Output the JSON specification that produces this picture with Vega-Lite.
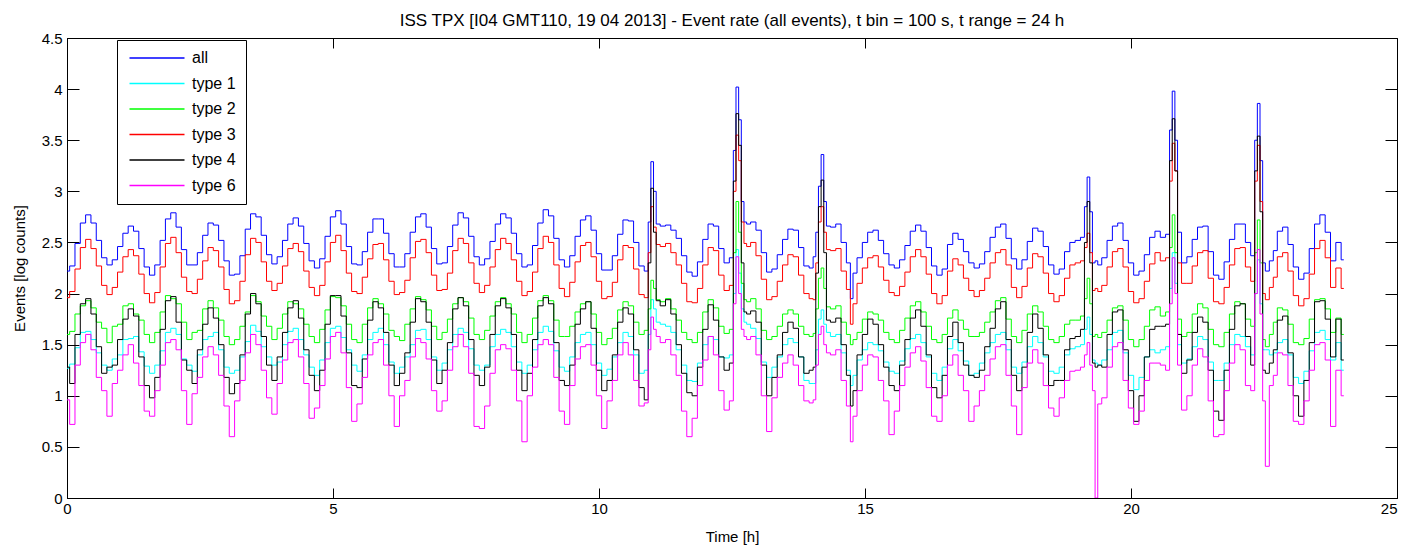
{
"$schema": "https://vega.github.io/schema/vega-lite/v6.json",
"autosize": "none",
"width": 1330,
"height": 460,
"padding": {"left": 67, "top": 38, "right": 6, "bottom": 51},
"background": "white",
"title": {"text": "ISS TPX [I04 GMT110, 19 04 2013] - Event rate (all events), t bin = 100 s, t range = 24 h", "font": "Liberation Sans", "fontSize": 17, "fontWeight": "normal", "color": "black", "offset": 1, "anchor": "middle"},
"config": {"view": {"stroke": "black", "strokeWidth": 1}, "axis": {"labelFont": "Liberation Sans", "titleFont": "Liberation Sans", "labelFontSize": 15, "titleFontSize": 15, "titleFontWeight": "normal", "labelColor": "black", "titleColor": "black", "tickColor": "black", "domainColor": "black", "grid": false}},
"data": {"values": [
{"t":0,"all":2.22,"type 1":1.27,"type 2":1.60,"type 3":1.96,"type 4":1.28,"type 6":0.96},
{"t":0.1,"all":2.27,"type 1":1.31,"type 2":1.63,"type 3":2.02,"type 4":1.12,"type 6":0.72},
{"t":0.2,"all":2.49,"type 1":1.47,"type 2":1.80,"type 3":2.24,"type 4":1.60,"type 6":1.30},
{"t":0.3,"all":2.69,"type 1":1.62,"type 2":1.88,"type 3":2.45,"type 4":1.90,"type 6":1.52},
{"t":0.4,"all":2.77,"type 1":1.63,"type 2":1.93,"type 3":2.53,"type 4":1.95,"type 6":1.60},
{"t":0.5,"all":2.69,"type 1":1.55,"type 2":1.86,"type 3":2.44,"type 4":1.80,"type 6":1.45},
{"t":0.6,"all":2.52,"type 1":1.42,"type 2":1.72,"type 3":2.27,"type 4":1.48,"type 6":1.18},
{"t":0.7,"all":2.35,"type 1":1.30,"type 2":1.66,"type 3":2.08,"type 4":1.22,"type 6":1.05},
{"t":0.8,"all":2.28,"type 1":1.25,"type 2":1.52,"type 3":1.99,"type 4":1.28,"type 6":0.80},
{"t":0.9,"all":2.33,"type 1":1.36,"type 2":1.68,"type 3":2.06,"type 4":1.30,"type 6":1.12},
{"t":1.0,"all":2.46,"type 1":1.40,"type 2":1.70,"type 3":2.21,"type 4":1.55,"type 6":1.25},
{"t":1.1,"all":2.59,"type 1":1.55,"type 2":1.88,"type 3":2.36,"type 4":1.75,"type 6":1.40},
{"t":1.2,"all":2.66,"type 1":1.56,"type 2":1.90,"type 3":2.43,"type 4":1.85,"type 6":1.50},
{"t":1.3,"all":2.61,"type 1":1.58,"type 2":1.80,"type 3":2.37,"type 4":1.78,"type 6":1.32},
{"t":1.4,"all":2.44,"type 1":1.43,"type 2":1.74,"type 3":2.19,"type 4":1.38,"type 6":1.10},
{"t":1.5,"all":2.26,"type 1":1.29,"type 2":1.60,"type 3":2.00,"type 4":1.10,"type 6":0.85},
{"t":1.6,"all":2.18,"type 1":1.22,"type 2":1.52,"type 3":1.91,"type 4":0.98,"type 6":0.80},
{"t":1.7,"all":2.28,"type 1":1.30,"type 2":1.62,"type 3":2.01,"type 4":1.18,"type 6":1.05},
{"t":1.8,"all":2.52,"type 1":1.44,"type 2":1.82,"type 3":2.26,"type 4":1.65,"type 6":1.30},
{"t":1.9,"all":2.73,"type 1":1.62,"type 2":1.98,"type 3":2.49,"type 4":1.93,"type 6":1.52},
{"t":2.0,"all":2.79,"type 1":1.66,"type 2":1.95,"type 3":2.55,"type 4":1.97,"type 6":1.55},
{"t":2.1,"all":2.65,"type 1":1.60,"type 2":1.90,"type 3":2.40,"type 4":1.72,"type 6":1.45},
{"t":2.2,"all":2.43,"type 1":1.36,"type 2":1.72,"type 3":2.16,"type 4":1.35,"type 6":1.05},
{"t":2.3,"all":2.28,"type 1":1.30,"type 2":1.55,"type 3":2.02,"type 4":1.25,"type 6":0.72},
{"t":2.4,"all":2.28,"type 1":1.24,"type 2":1.62,"type 3":2.00,"type 4":1.12,"type 6":1.02},
{"t":2.5,"all":2.40,"type 1":1.40,"type 2":1.64,"type 3":2.14,"type 4":1.45,"type 6":1.18},
{"t":2.6,"all":2.57,"type 1":1.55,"type 2":1.85,"type 3":2.32,"type 4":1.70,"type 6":1.38},
{"t":2.7,"all":2.69,"type 1":1.58,"type 2":1.93,"type 3":2.45,"type 4":1.86,"type 6":1.48},
{"t":2.8,"all":2.67,"type 1":1.62,"type 2":1.86,"type 3":2.42,"type 4":1.76,"type 6":1.40},
{"t":2.9,"all":2.52,"type 1":1.45,"type 2":1.74,"type 3":2.26,"type 4":1.50,"type 6":1.20},
{"t":3.0,"all":2.32,"type 1":1.28,"type 2":1.58,"type 3":2.04,"type 4":1.18,"type 6":0.90},
{"t":3.1,"all":2.18,"type 1":1.22,"type 2":1.50,"type 3":1.90,"type 4":1.02,"type 6":0.60},
{"t":3.2,"all":2.19,"type 1":1.25,"type 2":1.55,"type 3":1.93,"type 4":1.12,"type 6":0.95},
{"t":3.3,"all":2.37,"type 1":1.38,"type 2":1.68,"type 3":2.12,"type 4":1.40,"type 6":1.15},
{"t":3.4,"all":2.63,"type 1":1.53,"type 2":1.82,"type 3":2.38,"type 4":1.80,"type 6":1.42},
{"t":3.5,"all":2.78,"type 1":1.69,"type 2":1.98,"type 3":2.54,"type 4":2.00,"type 6":1.60},
{"t":3.6,"all":2.75,"type 1":1.63,"type 2":1.92,"type 3":2.50,"type 4":1.90,"type 6":1.50},
{"t":3.7,"all":2.57,"type 1":1.48,"type 2":1.78,"type 3":2.31,"type 4":1.58,"type 6":1.25},
{"t":3.8,"all":2.38,"type 1":1.38,"type 2":1.68,"type 3":2.12,"type 4":1.30,"type 6":0.98},
{"t":3.9,"all":2.29,"type 1":1.30,"type 2":1.55,"type 3":2.03,"type 4":1.15,"type 6":0.82},
{"t":4.0,"all":2.36,"type 1":1.33,"type 2":1.66,"type 3":2.10,"type 4":1.38,"type 6":1.12},
{"t":4.1,"all":2.52,"type 1":1.50,"type 2":1.80,"type 3":2.27,"type 4":1.62,"type 6":1.35},
{"t":4.2,"all":2.68,"type 1":1.63,"type 2":1.92,"type 3":2.44,"type 4":1.86,"type 6":1.52},
{"t":4.3,"all":2.74,"type 1":1.66,"type 2":1.90,"type 3":2.49,"type 4":1.93,"type 6":1.55},
{"t":4.4,"all":2.66,"type 1":1.55,"type 2":1.85,"type 3":2.41,"type 4":1.76,"type 6":1.38},
{"t":4.5,"all":2.49,"type 1":1.40,"type 2":1.70,"type 3":2.22,"type 4":1.45,"type 6":1.12},
{"t":4.6,"all":2.32,"type 1":1.28,"type 2":1.58,"type 3":2.06,"type 4":1.20,"type 6":0.78},
{"t":4.7,"all":2.25,"type 1":1.20,"type 2":1.52,"type 3":1.98,"type 4":1.05,"type 6":0.88},
{"t":4.8,"all":2.34,"type 1":1.35,"type 2":1.65,"type 3":2.08,"type 4":1.25,"type 6":1.10},
{"t":4.9,"all":2.56,"type 1":1.52,"type 2":1.84,"type 3":2.31,"type 4":1.70,"type 6":1.36},
{"t":5.0,"all":2.75,"type 1":1.66,"type 2":1.97,"type 3":2.50,"type 4":1.98,"type 6":1.58},
{"t":5.1,"all":2.81,"type 1":1.68,"type 2":1.96,"type 3":2.57,"type 4":1.98,"type 6":1.62},
{"t":5.2,"all":2.68,"type 1":1.57,"type 2":1.88,"type 3":2.42,"type 4":1.78,"type 6":1.42},
{"t":5.3,"all":2.46,"type 1":1.45,"type 2":1.70,"type 3":2.20,"type 4":1.42,"type 6":1.08},
{"t":5.4,"all":2.29,"type 1":1.30,"type 2":1.55,"type 3":2.02,"type 4":1.10,"type 6":0.75},
{"t":5.5,"all":2.28,"type 1":1.24,"type 2":1.52,"type 3":2.00,"type 4":1.08,"type 6":0.92},
{"t":5.6,"all":2.41,"type 1":1.40,"type 2":1.70,"type 3":2.16,"type 4":1.36,"type 6":1.18},
{"t":5.7,"all":2.60,"type 1":1.55,"type 2":1.86,"type 3":2.34,"type 4":1.74,"type 6":1.40},
{"t":5.8,"all":2.73,"type 1":1.62,"type 2":1.95,"type 3":2.48,"type 4":1.92,"type 6":1.52},
{"t":5.9,"all":2.73,"type 1":1.66,"type 2":1.90,"type 3":2.49,"type 4":1.86,"type 6":1.55},
{"t":6.0,"all":2.59,"type 1":1.50,"type 2":1.80,"type 3":2.33,"type 4":1.62,"type 6":1.30},
{"t":6.1,"all":2.39,"type 1":1.33,"type 2":1.64,"type 3":2.12,"type 4":1.30,"type 6":1.00},
{"t":6.2,"all":2.26,"type 1":1.22,"type 2":1.58,"type 3":1.99,"type 4":1.10,"type 6":0.70},
{"t":6.3,"all":2.26,"type 1":1.28,"type 2":1.54,"type 3":2.01,"type 4":1.22,"type 6":1.00},
{"t":6.4,"all":2.39,"type 1":1.38,"type 2":1.70,"type 3":2.13,"type 4":1.42,"type 6":1.15},
{"t":6.5,"all":2.60,"type 1":1.50,"type 2":1.85,"type 3":2.35,"type 4":1.72,"type 6":1.38},
{"t":6.6,"all":2.75,"type 1":1.64,"type 2":1.97,"type 3":2.51,"type 4":1.95,"type 6":1.56},
{"t":6.7,"all":2.78,"type 1":1.65,"type 2":1.94,"type 3":2.53,"type 4":1.92,"type 6":1.52},
{"t":6.8,"all":2.65,"type 1":1.55,"type 2":1.84,"type 3":2.40,"type 4":1.72,"type 6":1.36},
{"t":6.9,"all":2.44,"type 1":1.38,"type 2":1.68,"type 3":2.18,"type 4":1.35,"type 6":1.05},
{"t":7.0,"all":2.29,"type 1":1.25,"type 2":1.55,"type 3":2.03,"type 4":1.12,"type 6":0.85},
{"t":7.1,"all":2.30,"type 1":1.32,"type 2":1.62,"type 3":2.04,"type 4":1.25,"type 6":0.95},
{"t":7.2,"all":2.46,"type 1":1.45,"type 2":1.75,"type 3":2.20,"type 4":1.52,"type 6":1.25},
{"t":7.3,"all":2.67,"type 1":1.60,"type 2":1.90,"type 3":2.42,"type 4":1.85,"type 6":1.48},
{"t":7.4,"all":2.79,"type 1":1.66,"type 2":1.96,"type 3":2.54,"type 4":1.96,"type 6":1.60},
{"t":7.5,"all":2.74,"type 1":1.62,"type 2":1.92,"type 3":2.49,"type 4":1.88,"type 6":1.48},
{"t":7.6,"all":2.56,"type 1":1.46,"type 2":1.76,"type 3":2.30,"type 4":1.55,"type 6":1.22},
{"t":7.7,"all":2.36,"type 1":1.30,"type 2":1.60,"type 3":2.10,"type 4":1.20,"type 6":0.70},
{"t":7.8,"all":2.28,"type 1":1.25,"type 2":1.55,"type 3":2.01,"type 4":1.10,"type 6":0.68},
{"t":7.9,"all":2.34,"type 1":1.30,"type 2":1.64,"type 3":2.08,"type 4":1.28,"type 6":0.90},
{"t":8.0,"all":2.51,"type 1":1.48,"type 2":1.78,"type 3":2.26,"type 4":1.60,"type 6":1.22},
{"t":8.1,"all":2.68,"type 1":1.60,"type 2":1.92,"type 3":2.43,"type 4":1.88,"type 6":1.45},
{"t":8.2,"all":2.78,"type 1":1.65,"type 2":1.96,"type 3":2.54,"type 4":1.95,"type 6":1.50},
{"t":8.3,"all":2.74,"type 1":1.62,"type 2":1.90,"type 3":2.49,"type 4":1.86,"type 6":1.46},
{"t":8.4,"all":2.59,"type 1":1.48,"type 2":1.80,"type 3":2.33,"type 4":1.60,"type 6":1.25},
{"t":8.5,"all":2.39,"type 1":1.33,"type 2":1.62,"type 3":2.12,"type 4":1.25,"type 6":0.95},
{"t":8.6,"all":2.26,"type 1":1.22,"type 2":1.52,"type 3":1.98,"type 4":1.05,"type 6":0.55},
{"t":8.7,"all":2.28,"type 1":1.30,"type 2":1.60,"type 3":2.02,"type 4":1.22,"type 6":1.00},
{"t":8.8,"all":2.47,"type 1":1.45,"type 2":1.76,"type 3":2.21,"type 4":1.55,"type 6":1.28},
{"t":8.9,"all":2.69,"type 1":1.62,"type 2":1.93,"type 3":2.44,"type 4":1.88,"type 6":1.50},
{"t":9.0,"all":2.82,"type 1":1.68,"type 2":1.98,"type 3":2.56,"type 4":1.96,"type 6":1.55},
{"t":9.1,"all":2.76,"type 1":1.63,"type 2":1.93,"type 3":2.50,"type 4":1.90,"type 6":1.50},
{"t":9.2,"all":2.54,"type 1":1.44,"type 2":1.74,"type 3":2.28,"type 4":1.52,"type 6":1.18},
{"t":9.3,"all":2.33,"type 1":1.28,"type 2":1.58,"type 3":2.05,"type 4":1.15,"type 6":0.85},
{"t":9.4,"all":2.26,"type 1":1.24,"type 2":1.58,"type 3":1.97,"type 4":1.10,"type 6":0.72},
{"t":9.5,"all":2.37,"type 1":1.38,"type 2":1.68,"type 3":2.11,"type 4":1.30,"type 6":1.10},
{"t":9.6,"all":2.56,"type 1":1.52,"type 2":1.82,"type 3":2.31,"type 4":1.70,"type 6":1.36},
{"t":9.7,"all":2.72,"type 1":1.60,"type 2":1.90,"type 3":2.47,"type 4":1.85,"type 6":1.48},
{"t":9.8,"all":2.76,"type 1":1.62,"type 2":1.92,"type 3":2.50,"type 4":1.92,"type 6":1.50},
{"t":9.9,"all":2.62,"type 1":1.50,"type 2":1.80,"type 3":2.36,"type 4":1.66,"type 6":1.30},
{"t":10.0,"all":2.39,"type 1":1.32,"type 2":1.62,"type 3":2.12,"type 4":1.25,"type 6":1.00},
{"t":10.1,"all":2.23,"type 1":1.20,"type 2":1.50,"type 3":1.95,"type 4":1.05,"type 6":0.68},
{"t":10.2,"all":2.23,"type 1":1.26,"type 2":1.56,"type 3":1.97,"type 4":1.15,"type 6":0.95},
{"t":10.3,"all":2.37,"type 1":1.38,"type 2":1.66,"type 3":2.11,"type 4":1.40,"type 6":1.15},
{"t":10.4,"all":2.58,"type 1":1.52,"type 2":1.84,"type 3":2.33,"type 4":1.72,"type 6":1.40},
{"t":10.5,"all":2.72,"type 1":1.62,"type 2":1.92,"type 3":2.47,"type 4":1.86,"type 6":1.52},
{"t":10.6,"all":2.71,"type 1":1.58,"type 2":1.88,"type 3":2.45,"type 4":1.80,"type 6":1.40},
{"t":10.7,"all":2.50,"type 1":1.40,"type 2":1.72,"type 3":2.24,"type 4":1.45,"type 6":1.15},
{"t":10.8,"all":2.27,"type 1":1.22,"type 2":1.60,"type 3":1.99,"type 4":1.08,"type 6":0.90},
{"t":10.9,"all":2.22,"type 1":1.25,"type 2":1.64,"type 3":1.96,"type 4":0.96,"type 6":0.93},
{"t":10.95,"all":2.70,"type 1":1.60,"type 2":1.85,"type 3":2.40,"type 4":2.30,"type 6":1.45},
{"t":11.0,"all":3.29,"type 1":1.94,"type 2":2.13,"type 3":2.85,"type 4":3.03,"type 6":1.77},
{"t":11.05,"all":3.00,"type 1":1.85,"type 2":2.05,"type 3":2.65,"type 4":2.60,"type 6":1.65},
{"t":11.1,"all":2.68,"type 1":1.72,"type 2":1.94,"type 3":2.48,"type 4":1.93,"type 6":1.58},
{"t":11.2,"all":2.66,"type 1":1.70,"type 2":1.92,"type 3":2.46,"type 4":1.88,"type 6":1.52},
{"t":11.3,"all":2.67,"type 1":1.68,"type 2":1.95,"type 3":2.49,"type 4":1.94,"type 6":1.55},
{"t":11.4,"all":2.62,"type 1":1.62,"type 2":1.85,"type 3":2.40,"type 4":1.80,"type 6":1.40},
{"t":11.5,"all":2.54,"type 1":1.45,"type 2":1.74,"type 3":2.28,"type 4":1.50,"type 6":1.20},
{"t":11.6,"all":2.37,"type 1":1.30,"type 2":1.62,"type 3":2.10,"type 4":1.22,"type 6":0.85},
{"t":11.7,"all":2.21,"type 1":1.15,"type 2":1.55,"type 3":1.92,"type 4":1.03,"type 6":0.60},
{"t":11.8,"all":2.17,"type 1":1.14,"type 2":1.52,"type 3":1.91,"type 4":1.00,"type 6":0.78},
{"t":11.9,"all":2.31,"type 1":1.32,"type 2":1.62,"type 3":2.05,"type 4":1.28,"type 6":1.10},
{"t":12.0,"all":2.53,"type 1":1.50,"type 2":1.82,"type 3":2.28,"type 4":1.65,"type 6":1.35},
{"t":12.1,"all":2.68,"type 1":1.58,"type 2":1.94,"type 3":2.45,"type 4":1.89,"type 6":1.58},
{"t":12.2,"all":2.66,"type 1":1.55,"type 2":1.86,"type 3":2.42,"type 4":1.74,"type 6":1.40},
{"t":12.3,"all":2.44,"type 1":1.38,"type 2":1.68,"type 3":2.18,"type 4":1.38,"type 6":1.05},
{"t":12.4,"all":2.30,"type 1":1.37,"type 2":1.61,"type 3":2.03,"type 4":1.25,"type 6":0.86},
{"t":12.5,"all":2.35,"type 1":1.40,"type 2":1.65,"type 3":2.08,"type 4":1.32,"type 6":0.95},
{"t":12.55,"all":3.40,"type 1":2.00,"type 2":2.40,"type 3":3.00,"type 4":3.10,"type 6":1.90},
{"t":12.6,"all":4.02,"type 1":2.43,"type 2":2.90,"type 3":3.55,"type 4":3.76,"type 6":2.36},
{"t":12.65,"all":3.70,"type 1":2.20,"type 2":2.60,"type 3":3.30,"type 4":3.45,"type 6":2.00},
{"t":12.7,"all":2.90,"type 1":1.85,"type 2":2.10,"type 3":2.70,"type 4":2.30,"type 6":1.65},
{"t":12.75,"all":2.70,"type 1":1.72,"type 2":1.94,"type 3":2.49,"type 4":1.82,"type 6":1.58},
{"t":12.8,"all":2.68,"type 1":1.70,"type 2":1.92,"type 3":2.46,"type 4":1.80,"type 6":1.55},
{"t":12.9,"all":2.70,"type 1":1.66,"type 2":1.95,"type 3":2.50,"type 4":1.83,"type 6":1.58},
{"t":13.0,"all":2.62,"type 1":1.56,"type 2":1.85,"type 3":2.37,"type 4":1.72,"type 6":1.40},
{"t":13.1,"all":2.40,"type 1":1.33,"type 2":1.64,"type 3":2.14,"type 4":1.30,"type 6":1.00},
{"t":13.2,"all":2.21,"type 1":1.18,"type 2":1.55,"type 3":1.94,"type 4":1.00,"type 6":0.65},
{"t":13.3,"all":2.24,"type 1":1.28,"type 2":1.58,"type 3":1.97,"type 4":1.18,"type 6":0.98},
{"t":13.4,"all":2.38,"type 1":1.38,"type 2":1.68,"type 3":2.12,"type 4":1.40,"type 6":1.18},
{"t":13.5,"all":2.53,"type 1":1.50,"type 2":1.80,"type 3":2.28,"type 4":1.62,"type 6":1.32},
{"t":13.6,"all":2.63,"type 1":1.56,"type 2":1.84,"type 3":2.38,"type 4":1.72,"type 6":1.40},
{"t":13.7,"all":2.62,"type 1":1.52,"type 2":1.80,"type 3":2.36,"type 4":1.66,"type 6":1.30},
{"t":13.8,"all":2.45,"type 1":1.38,"type 2":1.68,"type 3":2.18,"type 4":1.38,"type 6":1.10},
{"t":13.9,"all":2.27,"type 1":1.15,"type 2":1.60,"type 3":2.00,"type 4":1.22,"type 6":0.95},
{"t":14.0,"all":2.25,"type 1":1.12,"type 2":1.58,"type 3":1.95,"type 4":1.25,"type 6":0.93},
{"t":14.05,"all":2.36,"type 1":1.12,"type 2":1.61,"type 3":1.94,"type 4":1.28,"type 6":0.96},
{"t":14.1,"all":2.60,"type 1":1.45,"type 2":1.85,"type 3":2.30,"type 4":2.20,"type 6":1.30},
{"t":14.15,"all":3.05,"type 1":1.75,"type 2":2.15,"type 3":2.70,"type 4":2.85,"type 6":1.60},
{"t":14.2,"all":3.36,"type 1":1.84,"type 2":2.25,"type 3":2.85,"type 4":3.11,"type 6":1.68},
{"t":14.25,"all":2.90,"type 1":1.70,"type 2":2.05,"type 3":2.60,"type 4":2.40,"type 6":1.50},
{"t":14.3,"all":2.66,"type 1":1.62,"type 2":1.87,"type 3":2.43,"type 4":1.74,"type 6":1.42},
{"t":14.4,"all":2.65,"type 1":1.58,"type 2":1.85,"type 3":2.42,"type 4":1.72,"type 6":1.40},
{"t":14.5,"all":2.68,"type 1":1.60,"type 2":1.88,"type 3":2.44,"type 4":1.76,"type 6":1.45},
{"t":14.6,"all":2.50,"type 1":1.42,"type 2":1.72,"type 3":2.22,"type 4":1.50,"type 6":1.15},
{"t":14.7,"all":2.30,"type 1":1.25,"type 2":1.60,"type 3":2.04,"type 4":1.20,"type 6":0.90},
{"t":14.75,"all":1.95,"type 1":1.10,"type 2":1.50,"type 3":1.70,"type 4":0.90,"type 6":0.55},
{"t":14.8,"all":2.20,"type 1":1.20,"type 2":1.55,"type 3":1.90,"type 4":1.05,"type 6":0.80},
{"t":14.9,"all":2.35,"type 1":1.35,"type 2":1.62,"type 3":2.10,"type 4":1.40,"type 6":1.05},
{"t":15.0,"all":2.50,"type 1":1.45,"type 2":1.75,"type 3":2.25,"type 4":1.60,"type 6":1.30},
{"t":15.1,"all":2.60,"type 1":1.52,"type 2":1.82,"type 3":2.35,"type 4":1.75,"type 6":1.40},
{"t":15.2,"all":2.62,"type 1":1.50,"type 2":1.80,"type 3":2.37,"type 4":1.70,"type 6":1.38},
{"t":15.3,"all":2.52,"type 1":1.44,"type 2":1.74,"type 3":2.26,"type 4":1.50,"type 6":1.15},
{"t":15.4,"all":2.39,"type 1":1.33,"type 2":1.62,"type 3":2.13,"type 4":1.28,"type 6":0.95},
{"t":15.5,"all":2.28,"type 1":1.24,"type 2":1.55,"type 3":2.01,"type 4":1.10,"type 6":0.62},
{"t":15.6,"all":2.25,"type 1":1.22,"type 2":1.52,"type 3":1.98,"type 4":1.05,"type 6":0.85},
{"t":15.7,"all":2.33,"type 1":1.34,"type 2":1.64,"type 3":2.07,"type 4":1.30,"type 6":1.10},
{"t":15.8,"all":2.47,"type 1":1.46,"type 2":1.76,"type 3":2.21,"type 4":1.55,"type 6":1.28},
{"t":15.9,"all":2.61,"type 1":1.56,"type 2":1.88,"type 3":2.36,"type 4":1.76,"type 6":1.42},
{"t":16.0,"all":2.67,"type 1":1.60,"type 2":1.92,"type 3":2.43,"type 4":1.84,"type 6":1.48},
{"t":16.1,"all":2.61,"type 1":1.52,"type 2":1.82,"type 3":2.36,"type 4":1.68,"type 6":1.34},
{"t":16.2,"all":2.45,"type 1":1.38,"type 2":1.68,"type 3":2.19,"type 4":1.40,"type 6":1.08},
{"t":16.3,"all":2.27,"type 1":1.22,"type 2":1.55,"type 3":2.00,"type 4":1.08,"type 6":0.80},
{"t":16.4,"all":2.18,"type 1":1.15,"type 2":1.52,"type 3":1.90,"type 4":0.98,"type 6":0.75},
{"t":16.5,"all":2.24,"type 1":1.28,"type 2":1.60,"type 3":1.98,"type 4":1.20,"type 6":1.00},
{"t":16.6,"all":2.48,"type 1":1.46,"type 2":1.76,"type 3":2.22,"type 4":1.58,"type 6":1.30},
{"t":16.7,"all":2.59,"type 1":1.55,"type 2":1.84,"type 3":2.34,"type 4":1.72,"type 6":1.40},
{"t":16.8,"all":2.53,"type 1":1.44,"type 2":1.74,"type 3":2.28,"type 4":1.52,"type 6":1.20},
{"t":16.9,"all":2.41,"type 1":1.34,"type 2":1.65,"type 3":2.15,"type 4":1.30,"type 6":1.05},
{"t":17.0,"all":2.30,"type 1":1.20,"type 2":1.58,"type 3":2.03,"type 4":1.20,"type 6":0.75},
{"t":17.1,"all":2.25,"type 1":1.22,"type 2":1.58,"type 3":1.97,"type 4":1.18,"type 6":0.90},
{"t":17.2,"all":2.29,"type 1":1.32,"type 2":1.62,"type 3":2.03,"type 4":1.25,"type 6":1.05},
{"t":17.3,"all":2.41,"type 1":1.42,"type 2":1.72,"type 3":2.15,"type 4":1.48,"type 6":1.20},
{"t":17.4,"all":2.55,"type 1":1.52,"type 2":1.82,"type 3":2.30,"type 4":1.66,"type 6":1.36},
{"t":17.5,"all":2.65,"type 1":1.60,"type 2":1.93,"type 3":2.40,"type 4":1.85,"type 6":1.48},
{"t":17.6,"all":2.68,"type 1":1.62,"type 2":1.96,"type 3":2.43,"type 4":1.92,"type 6":1.50},
{"t":17.7,"all":2.54,"type 1":1.45,"type 2":1.75,"type 3":2.28,"type 4":1.55,"type 6":1.20},
{"t":17.8,"all":2.34,"type 1":1.28,"type 2":1.58,"type 3":2.06,"type 4":1.20,"type 6":0.90},
{"t":17.9,"all":2.24,"type 1":1.22,"type 2":1.52,"type 3":1.96,"type 4":1.05,"type 6":0.62},
{"t":18.0,"all":2.33,"type 1":1.33,"type 2":1.64,"type 3":2.07,"type 4":1.28,"type 6":1.08},
{"t":18.1,"all":2.51,"type 1":1.48,"type 2":1.80,"type 3":2.25,"type 4":1.62,"type 6":1.32},
{"t":18.2,"all":2.64,"type 1":1.58,"type 2":1.88,"type 3":2.39,"type 4":1.80,"type 6":1.45},
{"t":18.3,"all":2.61,"type 1":1.52,"type 2":1.82,"type 3":2.36,"type 4":1.66,"type 6":1.32},
{"t":18.4,"all":2.46,"type 1":1.38,"type 2":1.68,"type 3":2.20,"type 4":1.40,"type 6":1.10},
{"t":18.5,"all":2.28,"type 1":1.24,"type 2":1.55,"type 3":2.00,"type 4":1.10,"type 6":0.88},
{"t":18.6,"all":2.19,"type 1":1.22,"type 2":1.52,"type 3":1.92,"type 4":1.15,"type 6":0.80},
{"t":18.7,"all":2.24,"type 1":1.28,"type 2":1.58,"type 3":1.98,"type 4":1.15,"type 6":0.98},
{"t":18.8,"all":2.41,"type 1":1.40,"type 2":1.70,"type 3":2.15,"type 4":1.45,"type 6":1.15},
{"t":18.9,"all":2.50,"type 1":1.46,"type 2":1.74,"type 3":2.28,"type 4":1.56,"type 6":1.24},
{"t":19.0,"all":2.52,"type 1":1.48,"type 2":1.74,"type 3":2.30,"type 4":1.58,"type 6":1.25},
{"t":19.1,"all":2.55,"type 1":1.50,"type 2":1.78,"type 3":2.32,"type 4":1.65,"type 6":1.28},
{"t":19.15,"all":2.85,"type 1":1.65,"type 2":1.95,"type 3":2.45,"type 4":2.50,"type 6":1.40},
{"t":19.2,"all":3.14,"type 1":1.77,"type 2":2.15,"type 3":2.59,"type 4":2.90,"type 6":1.52},
{"t":19.25,"all":2.80,"type 1":1.60,"type 2":1.90,"type 3":2.40,"type 4":2.30,"type 6":1.30},
{"t":19.3,"all":2.30,"type 1":1.35,"type 2":1.58,"type 3":2.03,"type 4":1.32,"type 6":1.05},
{"t":19.35,"all":2.32,"type 1":1.32,"type 2":1.60,"type 3":2.05,"type 4":1.28,"type 6":0.00},
{"t":19.4,"all":2.28,"type 1":1.30,"type 2":1.57,"type 3":2.02,"type 4":1.30,"type 6":0.92},
{"t":19.5,"all":2.35,"type 1":1.35,"type 2":1.62,"type 3":2.08,"type 4":1.28,"type 6":0.98},
{"t":19.6,"all":2.52,"type 1":1.45,"type 2":1.74,"type 3":2.26,"type 4":1.60,"type 6":1.28},
{"t":19.7,"all":2.66,"type 1":1.62,"type 2":1.86,"type 3":2.41,"type 4":1.82,"type 6":1.48},
{"t":19.8,"all":2.69,"type 1":1.64,"type 2":1.88,"type 3":2.44,"type 4":1.84,"type 6":1.52},
{"t":19.9,"all":2.52,"type 1":1.42,"type 2":1.74,"type 3":2.26,"type 4":1.45,"type 6":1.15},
{"t":20.0,"all":2.30,"type 1":1.20,"type 2":1.55,"type 3":2.02,"type 4":1.05,"type 6":0.88},
{"t":20.1,"all":2.18,"type 1":1.06,"type 2":1.48,"type 3":1.91,"type 4":0.75,"type 6":0.72},
{"t":20.2,"all":2.22,"type 1":1.18,"type 2":1.55,"type 3":1.95,"type 4":1.00,"type 6":0.85},
{"t":20.3,"all":2.38,"type 1":1.38,"type 2":1.68,"type 3":2.12,"type 4":1.38,"type 6":1.15},
{"t":20.4,"all":2.55,"type 1":1.45,"type 2":1.84,"type 3":2.29,"type 4":1.65,"type 6":1.32},
{"t":20.5,"all":2.61,"type 1":1.42,"type 2":1.87,"type 3":2.40,"type 4":1.68,"type 6":1.32},
{"t":20.6,"all":2.55,"type 1":1.45,"type 2":1.78,"type 3":2.32,"type 4":1.68,"type 6":1.30},
{"t":20.7,"all":2.58,"type 1":1.48,"type 2":1.82,"type 3":2.35,"type 4":1.70,"type 6":1.25},
{"t":20.75,"all":3.60,"type 1":2.05,"type 2":2.45,"type 3":3.10,"type 4":3.30,"type 6":1.90},
{"t":20.8,"all":3.98,"type 1":2.40,"type 2":2.77,"type 3":3.47,"type 4":3.71,"type 6":2.35},
{"t":20.85,"all":3.50,"type 1":2.10,"type 2":2.40,"type 3":3.20,"type 4":3.20,"type 6":2.00},
{"t":20.9,"all":2.60,"type 1":1.50,"type 2":1.75,"type 3":2.30,"type 4":1.60,"type 6":1.30},
{"t":21.0,"all":2.30,"type 1":1.32,"type 2":1.58,"type 3":2.10,"type 4":1.22,"type 6":0.86},
{"t":21.1,"all":2.36,"type 1":1.36,"type 2":1.62,"type 3":2.10,"type 4":1.35,"type 6":1.00},
{"t":21.2,"all":2.53,"type 1":1.48,"type 2":1.80,"type 3":2.27,"type 4":1.62,"type 6":1.30},
{"t":21.3,"all":2.65,"type 1":1.58,"type 2":1.90,"type 3":2.40,"type 4":1.77,"type 6":1.46},
{"t":21.4,"all":2.66,"type 1":1.55,"type 2":1.86,"type 3":2.42,"type 4":1.72,"type 6":1.38},
{"t":21.5,"all":2.41,"type 1":1.33,"type 2":1.65,"type 3":2.15,"type 4":1.25,"type 6":0.95},
{"t":21.6,"all":2.18,"type 1":1.15,"type 2":1.50,"type 3":1.92,"type 4":0.85,"type 6":0.60},
{"t":21.7,"all":2.14,"type 1":1.15,"type 2":1.48,"type 3":1.90,"type 4":0.76,"type 6":0.62},
{"t":21.8,"all":2.31,"type 1":1.32,"type 2":1.62,"type 3":2.06,"type 4":1.25,"type 6":1.05},
{"t":21.9,"all":2.53,"type 1":1.50,"type 2":1.80,"type 3":2.28,"type 4":1.65,"type 6":1.32},
{"t":22.0,"all":2.68,"type 1":1.60,"type 2":1.92,"type 3":2.44,"type 4":1.88,"type 6":1.50},
{"t":22.1,"all":2.68,"type 1":1.58,"type 2":1.90,"type 3":2.45,"type 4":1.90,"type 6":1.45},
{"t":22.2,"all":2.50,"type 1":1.48,"type 2":1.75,"type 3":2.26,"type 4":1.58,"type 6":1.10},
{"t":22.3,"all":2.37,"type 1":1.40,"type 2":1.68,"type 3":2.12,"type 4":1.30,"type 6":1.05},
{"t":22.35,"all":3.50,"type 1":2.00,"type 2":2.40,"type 3":3.10,"type 4":3.20,"type 6":2.00},
{"t":22.4,"all":3.86,"type 1":2.33,"type 2":2.72,"type 3":3.45,"type 4":3.54,"type 6":2.43},
{"t":22.45,"all":3.30,"type 1":1.90,"type 2":2.30,"type 3":2.90,"type 4":2.80,"type 6":1.80},
{"t":22.5,"all":2.30,"type 1":1.45,"type 2":1.55,"type 3":2.00,"type 4":1.25,"type 6":0.95},
{"t":22.55,"all":2.22,"type 1":1.45,"type 2":1.48,"type 3":1.94,"type 4":1.22,"type 6":0.31},
{"t":22.65,"all":2.32,"type 1":1.40,"type 2":1.60,"type 3":2.06,"type 4":1.32,"type 6":1.10},
{"t":22.7,"all":2.42,"type 1":1.42,"type 2":1.72,"type 3":2.16,"type 4":1.45,"type 6":1.20},
{"t":22.8,"all":2.61,"type 1":1.52,"type 2":1.86,"type 3":2.36,"type 4":1.74,"type 6":1.42},
{"t":22.9,"all":2.65,"type 1":1.55,"type 2":1.84,"type 3":2.40,"type 4":1.78,"type 6":1.40},
{"t":23.0,"all":2.48,"type 1":1.40,"type 2":1.70,"type 3":2.22,"type 4":1.42,"type 6":1.10},
{"t":23.1,"all":2.26,"type 1":1.18,"type 2":1.52,"type 3":1.98,"type 4":1.00,"type 6":0.75},
{"t":23.2,"all":2.14,"type 1":1.12,"type 2":1.50,"type 3":1.88,"type 4":0.80,"type 6":0.72},
{"t":23.3,"all":2.20,"type 1":1.24,"type 2":1.56,"type 3":1.95,"type 4":1.15,"type 6":0.95},
{"t":23.4,"all":2.44,"type 1":1.44,"type 2":1.75,"type 3":2.19,"type 4":1.52,"type 6":1.25},
{"t":23.5,"all":2.68,"type 1":1.62,"type 2":1.94,"type 3":2.44,"type 4":1.92,"type 6":1.50},
{"t":23.6,"all":2.77,"type 1":1.64,"type 2":1.95,"type 3":2.52,"type 4":1.93,"type 6":1.52},
{"t":23.7,"all":2.60,"type 1":1.55,"type 2":1.85,"type 3":2.35,"type 4":1.75,"type 6":1.35},
{"t":23.8,"all":2.32,"type 1":1.35,"type 2":1.62,"type 3":2.06,"type 4":1.38,"type 6":0.70},
{"t":23.9,"all":2.50,"type 1":1.52,"type 2":1.76,"type 3":2.25,"type 4":1.75,"type 6":1.25},
{"t":24.0,"all":2.33,"type 1":1.25,"type 2":1.60,"type 3":2.05,"type 4":1.35,"type 6":1.00}
]},
"transform": [{"fold": ["all", "type 1", "type 2", "type 3", "type 4", "type 6"], "as": ["series", "value"]}],
"layer": [
{"mark": {"type": "line", "interpolate": "step", "strokeWidth": 1, "clip": true},
 "encoding": {
  "x": {"field": "t", "type": "quantitative", "scale": {"domain": [0, 25], "nice": false, "zero": false},
        "axis": {"orient": "bottom", "values": [0, 5, 10, 15, 20, 25], "format": "~g", "tickSize": -10, "labelPadding": 13, "title": "Time [h]", "titlePadding": 13, "labelFlush": false,
                 "labelAlign": {"condition": {"test": "datum.value == 25", "value": "right"}, "value": "center"}}},
  "y": {"field": "value", "type": "quantitative", "scale": {"domain": [0, 4.5], "nice": false},
        "axis": {"orient": "left", "values": [0, 0.5, 1, 1.5, 2, 2.5, 3, 3.5, 4, 4.5], "format": "~g", "tickSize": -12, "labelPadding": 17, "title": "Events [log counts]", "titlePadding": 14, "labelFlush": false}},
  "color": {"field": "series", "type": "nominal",
            "scale": {"domain": ["all", "type 1", "type 2", "type 3", "type 4", "type 6"], "range": ["#0000ff", "#00ffff", "#00ff00", "#ff0000", "#000000", "#ff00ff"]},
            "legend": {"orient": "none", "legendX": 50, "legendY": 2, "title": null, "symbolType": "M-1,0H9", "symbolSize": 121, "symbolStrokeWidth": 1.5, "labelFont": "Liberation Sans", "labelFontSize": 16, "labelColor": "black", "labelExpr": "datum.label + '  '", "strokeColor": "black", "fillColor": "white", "padding": 10, "rowPadding": 9.5, "labelOffset": 49}}
 }},
{"mark": {"type": "line", "opacity": 0},
 "encoding": {
  "x": {"field": "t", "type": "quantitative", "axis": {"orient": "top", "values": [0, 5, 10, 15, 20, 25], "tickSize": -10, "labels": false, "title": null, "domain": false}},
  "y": {"field": "value", "type": "quantitative", "axis": {"orient": "right", "values": [0, 0.5, 1, 1.5, 2, 2.5, 3, 3.5, 4, 4.5], "tickSize": -12, "labels": false, "title": null, "domain": false}}
 }}
],
"resolve": {"axis": {"x": "independent", "y": "independent"}}
}
